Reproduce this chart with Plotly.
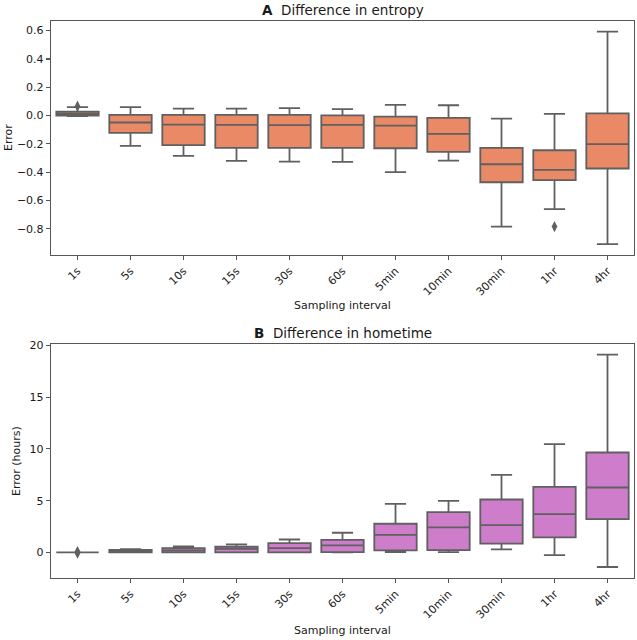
import plotly.graph_objects as go
from plotly.subplots import make_subplots

categories = ["1s", "5s", "10s", "15s", "30s", "60s", "5min", "10min", "30min", "1hr", "4hr"]

# Panel A: difference in entropy
ent_lower = [-0.004, -0.214, -0.285, -0.320, -0.325, -0.327, -0.400, -0.318, -0.784, -0.661, -0.908]
ent_q1 = [0.000, -0.122, -0.209, -0.228, -0.228, -0.228, -0.231, -0.256, -0.471, -0.456, -0.374]
ent_median = [0.012, -0.049, -0.064, -0.066, -0.068, -0.066, -0.071, -0.129, -0.344, -0.384, -0.202]
ent_q3 = [0.027, 0.005, 0.005, 0.005, 0.005, 0.001, -0.007, -0.016, -0.228, -0.245, 0.016]
ent_upper = [0.060, 0.059, 0.049, 0.049, 0.052, 0.045, 0.075, 0.073, -0.021, 0.012, 0.593]
ent_out_x = ["1s", "1hr"]
ent_out_y = [0.066, -0.784]

# Panel B: difference in hometime (hours)
home_lower = [0.0, 0.0, 0.0, 0.0, 0.0, 0.0, 0.03, 0.03, 0.29, -0.26, -1.41]
home_q1 = [0.0, 0.0, 0.0, 0.0, 0.0, 0.03, 0.19, 0.22, 0.84, 1.45, 3.22]
home_median = [0.0, 0.10, 0.19, 0.35, 0.42, 0.68, 1.70, 2.41, 2.64, 3.70, 6.27]
home_q3 = [0.0, 0.25, 0.42, 0.55, 0.90, 1.22, 2.77, 3.89, 5.11, 6.33, 9.65]
home_upper = [0.0, 0.32, 0.58, 0.77, 1.25, 1.90, 4.69, 4.98, 7.49, 10.45, 19.10]
home_out_x = ["1s", "1s", "1s"]
home_out_y = [0.08, 0.0, -0.08]

ent_ticks = [-0.8, -0.6, -0.4, -0.2, 0.0, 0.2, 0.4, 0.6]
ent_ticktext = [("−" if v < 0 else "") + f"{abs(v):.1f}" for v in ent_ticks]
home_ticks = [0, 5, 10, 15, 20]
home_ticktext = [str(v) for v in home_ticks]

ORANGE = "#E98966"
PURPLE = "#CD7DCA"
EDGE = "#606060"
FONT = "DejaVu Sans"
TXT = "#1a1a1a"

# layout geometry (paper fractions)
A_DOM = [0.5799, 1.0]
B_DOM = [0.0, 0.4201]

fig = make_subplots(rows=2, cols=1, vertical_spacing=0.16)

fig.add_trace(go.Box(
    x=categories, q1=ent_q1, median=ent_median, q3=ent_q3,
    lowerfence=ent_lower, upperfence=ent_upper,
    fillcolor=ORANGE, line=dict(color=EDGE, width=1.8),
    width=0.8, whiskerwidth=0.5, boxpoints=False, hoverinfo="skip",
), row=1, col=1)
fig.add_trace(go.Scatter(
    x=ent_out_x, y=ent_out_y, mode="markers",
    marker=dict(symbol="diamond-tall", size=8, color=EDGE, line=dict(width=0)),
), row=1, col=1)

fig.add_trace(go.Box(
    x=categories, q1=home_q1, median=home_median, q3=home_q3,
    lowerfence=home_lower, upperfence=home_upper,
    fillcolor=PURPLE, line=dict(color=EDGE, width=1.8),
    width=0.8, whiskerwidth=0.5, boxpoints=False, hoverinfo="skip",
), row=2, col=1)
fig.add_trace(go.Scatter(
    x=home_out_x, y=home_out_y, mode="markers",
    marker=dict(symbol="diamond-tall", size=8, color=EDGE, line=dict(width=0)),
), row=2, col=1)

axis_common = dict(
    showline=True, mirror=True, linecolor="#555555", linewidth=1.2,
    ticks="outside", ticklen=4, tickcolor="#555555", tickwidth=1.2,
    showgrid=False, zeroline=False, automargin=False,
    tickfont=dict(family=FONT, size=11, color=TXT),
)

for r in (1, 2):
    fig.update_xaxes(
        **axis_common, tickangle=-45, categoryorder="array", categoryarray=categories,
        range=[-0.5, 10.5], row=r, col=1,
    )

fig.update_yaxes(
    **axis_common, range=[-0.985, 0.668], tickvals=ent_ticks, ticktext=ent_ticktext,
    domain=A_DOM, row=1, col=1,
)
fig.update_yaxes(
    **axis_common, range=[-2.47, 20.13], tickvals=home_ticks, ticktext=home_ticktext,
    domain=B_DOM, row=2, col=1,
)

title_font = dict(family=FONT, size=13.5, color=TXT)
label_font = dict(family=FONT, size=11, color=TXT)

# panel titles
fig.add_annotation(text="<b>A</b>  Difference in entropy", xref="paper", yref="paper",
                   x=0.5, y=A_DOM[1], yshift=11, xanchor="center", yanchor="middle",
                   showarrow=False, font=title_font)
fig.add_annotation(text="<b>B</b>  Difference in hometime", xref="paper", yref="paper",
                   x=0.5, y=B_DOM[1], yshift=11, xanchor="center", yanchor="middle",
                   showarrow=False, font=title_font)

# x axis titles
fig.add_annotation(text="Sampling interval", xref="paper", yref="paper",
                   x=0.5, y=A_DOM[0], yshift=-51, xanchor="center", yanchor="middle",
                   showarrow=False, font=label_font)
fig.add_annotation(text="Sampling interval", xref="paper", yref="paper",
                   x=0.5, y=B_DOM[0], yshift=-52, xanchor="center", yanchor="middle",
                   showarrow=False, font=label_font)

# y axis titles
fig.add_annotation(text="Error", xref="paper", yref="paper",
                   x=0, y=(A_DOM[0] + A_DOM[1]) / 2, xshift=-42, textangle=-90,
                   xanchor="center", yanchor="middle", showarrow=False, font=label_font)
fig.add_annotation(text="Error (hours)", xref="paper", yref="paper",
                   x=0, y=(B_DOM[0] + B_DOM[1]) / 2, xshift=-35, textangle=-90,
                   xanchor="center", yanchor="middle", showarrow=False, font=label_font)

fig.update_layout(
    width=637, height=640,
    margin=dict(l=51, r=3, t=21, b=62),
    plot_bgcolor="white", paper_bgcolor="white",
    showlegend=False,
)

fig.write_html(
    "out.html",
    config={"displayModeBar": False, "staticPlot": True},
    post_script="document.body.style.margin='0';document.body.style.overflow='hidden';",
)
